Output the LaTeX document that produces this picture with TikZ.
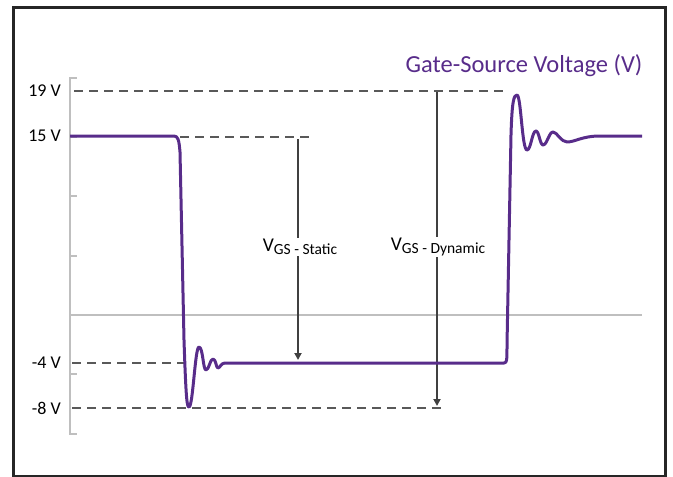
\documentclass[tikz,border=0pt]{standalone}
\usepackage{fontspec}
\setmainfont{Carlito}
\usetikzlibrary{arrows.meta}
\definecolor{wave}{RGB}{88,44,138}
\definecolor{axgray}{RGB}{191,191,191}
\definecolor{dashgray}{RGB}{89,89,89}
\newcommand{\vgs}[1]{V\raisebox{-0.3ex}{\fontsize{15.5}{17}\selectfont GS - #1}}

\begin{document}
\begin{tikzpicture}[x=1pt,y=-1pt,
    level/.style={dashgray,line width=1.4pt,dash pattern=on 9pt off 6pt},
    span/.style={draw=black!75,line width=1.8pt,-{Triangle[length=7pt,width=7pt]}},
    vlab/.style={anchor=east,font=\fontsize{18}{20}\selectfont,inner sep=0pt},
    spanlab/.style={fill=white,inner sep=1pt,font=\fontsize{19.5}{22}\selectfont}]
  \useasboundingbox (0,0) rectangle (673,477);
  \draw[black!85,line width=3pt] (13,7) rectangle (665,476);
  % axis and ticks
  \draw[axgray,line width=2.5pt] (70,77) -- (70,435);
  \foreach \ty in {78,137,196,256,374,434} \draw[axgray,line width=2.5pt] (69,\ty) -- (77,\ty);
  \draw[axgray,line width=2.5pt] (69,315) -- (642,315);
  % level labels
  \node[vlab] (l19) at (61,91) {19 V};
  \node[vlab] (l15) at (61,136) {15 V};
  \node[vlab] (lm4) at (61,363) {-4 V};
  \node[vlab] (lm8) at (61,408) {-8 V};
  \coordinate (e19) at (505,91);
  \coordinate (s15) at (180,137);
  \coordinate (e15) at (311,137);
  \coordinate (em4) at (186,363);
  \coordinate (em8) at (444,408);
  \draw[level] (l19.east) ++(13,0) -- (e19);
  \draw[level] (s15) -- (e15);
  \draw[level] (lm4.east) ++(11,0) -- (em4);
  \draw[level] (lm8.east) ++(11,0) -- (em8);
  % spans
  \coordinate (st) at (298,139);
  \coordinate (sb) at (298,360);
  \coordinate (dt) at (437,92);
  \coordinate (db) at (437,406);
  \draw[span] (st) -- (sb);
  \draw[span] (dt) -- (db);
  \node[spanlab] (VGSs) at (300,247) {\vgs{Static}};
  \node[spanlab] (VGSd) at (438,247) {\vgs{Dynamic}};
  % waveform
  \draw[wave,line width=3pt,line join=round]
    (70,136) -- (174,136) .. controls (178,136) and (179,140) .. (180,152)
    -- (184,340) .. controls (186,400) and (187,407) .. (189,407)
    .. controls (193,407) and (195,347) .. (199,347)
    .. controls (203,347) and (203,370) .. (206,370)
    .. controls (209,370) and (210,359) .. (213,359)
    .. controls (216,359) and (216,368) .. (218,368)
    .. controls (220,368) and (221,363) .. (225,363)
    -- (504,363) .. controls (507,363) and (507,360) .. (507,345)
    -- (511,135) .. controls (512,100) and (514,95) .. (517,95)
    .. controls (521,95) and (522,150) .. (527,150)
    .. controls (531,150) and (532,131) .. (536,131)
    .. controls (539,131) and (540,145) .. (543,145)
    .. controls (547,145) and (549,132) .. (553,132)
    .. controls (557,132) and (561,142) .. (567,142)
    .. controls (575,142) and (582,136) .. (600,136) -- (642,136);
  \node[text=wave,font=\fontsize{24.5}{28}\selectfont,anchor=east] (title) at (646,66) {Gate-Source Voltage (V)};
\end{tikzpicture}
\end{document}
